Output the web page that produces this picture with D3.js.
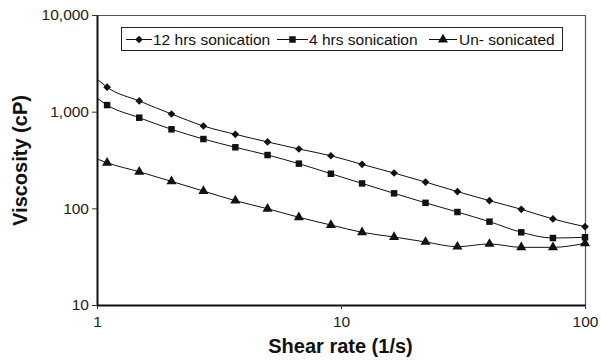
<!DOCTYPE html>
<html>
<head>
<meta charset="utf-8">
<script src="https://cdn.jsdelivr.net/npm/d3@7/dist/d3.min.js"></script>
<style>
  html, body { margin: 0; padding: 0; background: #fff; }
  svg { display: block; font-family: "Liberation Sans", Arial, sans-serif; }
</style>
</head>
<body>
<svg id="chart" width="601" height="361"></svg>
<script>
// Shear rate (1/s) at each measurement
const shearRate = [1, 1.1, 1.49, 2.02, 2.73, 3.69, 5.0, 6.72, 9.09, 12.2, 16.5, 22.2, 30.0, 40.6, 54.8, 73.9, 100];

// Viscosity (cP) for each sample
const sonic12h = [2180, 1790, 1290, 946, 711, 583, 486, 411, 350, 285, 232, 187, 149, 120, 97.7, 77.6, 64.6];
const sonic4h  = [1380, 1170, 866, 657, 521, 428, 356, 290, 228, 181, 143, 114, 91.6, 72.8, 56.5, 49.3, 50.2];
const unsonic  = [324, 296, 239, 190, 151, 120, 99, 80.8, 67.2, 56.5, 50.5, 44.9, 40.1, 42.8, 39.5, 39.5, 43.5];

const seriesNames = ["12 hrs sonication", "4 hrs sonication", "Un- sonicated"];
const xTickValues = [1, 10, 100];
const yTickValues = [10, 100, 1000, 10000];

const svg = d3.select("#chart");
const plot = { left: 97, right: 585, top: 15, bottom: 305 };

const x = d3.scaleLog().domain([1, 100]).range([plot.left, plot.right]);
const y = d3.scaleLog().domain([10, 10000]).range([plot.bottom, plot.top]);

// Frame on top and right
svg.append("line").attr("x1", plot.left).attr("x2", plot.right).attr("y1", plot.top + 0.5).attr("y2", plot.top + 0.5)
  .attr("stroke", "#555").attr("stroke-width", 1.2);
svg.append("line").attr("x1", plot.right + 0.5).attr("x2", plot.right + 0.5).attr("y1", plot.top).attr("y2", plot.bottom)
  .attr("stroke", "#555").attr("stroke-width", 1.2);

// Axes
const xAxis = svg.append("g").attr("transform", `translate(0,${plot.bottom})`)
  .call(d3.axisBottom(x).tickValues(xTickValues).tickFormat(d3.format(",")).tickSize(4).tickSizeOuter(0));
const yAxis = svg.append("g").attr("transform", `translate(${plot.left},0)`)
  .call(d3.axisLeft(y).tickValues(yTickValues).tickFormat(d3.format(",")).tickSize(5).tickSizeOuter(0));

[xAxis, yAxis].forEach(g => {
  g.select(".domain").attr("stroke", "#111").attr("stroke-width", 2);
  g.selectAll(".tick line").attr("stroke", "#333").attr("stroke-width", 1);
  g.selectAll(".tick text").attr("font-size", 15.5).attr("fill", "#222")
    .attr("font-family", "'Liberation Sans', Arial, sans-serif");
});
xAxis.selectAll(".tick text").attr("y", 7).attr("dy", "0.95em");
yAxis.selectAll(".tick text").attr("x", -8);

// Axis titles
svg.append("text").attr("x", 340.5).attr("y", 353).attr("text-anchor", "middle")
  .attr("font-size", 20).attr("font-weight", "bold").attr("fill", "#111")
  .text("Shear rate (1/s)");
svg.append("text").attr("transform", "translate(27,160.5) rotate(-90)").attr("text-anchor", "middle")
  .attr("font-size", 20).attr("font-weight", "bold").attr("fill", "#111")
  .text("Viscosity (cP)");

// Marker shapes
const markers = [
  d3.symbol().type(d3.symbolDiamond2).size(38),
  d3.symbol().type(d3.symbolSquare).size(42),
  d3.symbol().type(d3.symbolTriangle).size(44)
];

const series = [sonic12h, sonic4h, unsonic];
const line = d3.line().x((d, i) => x(shearRate[i])).y(d => y(d)).curve(d3.curveMonotoneX);

series.forEach((vals, k) => {
  svg.append("path").datum(vals).attr("d", line)
    .attr("fill", "none").attr("stroke", "#111").attr("stroke-width", 1);
  svg.append("g").selectAll("path").data(vals.slice(1)).join("path")
    .attr("transform", (d, i) => `translate(${x(shearRate[i + 1])},${y(d)})`)
    .attr("d", markers[k]).attr("fill", "#111");
});

// Legend
const legend = svg.append("g");
legend.append("rect").attr("x", 121.5).attr("y", 27.5).attr("width", 441).attr("height", 23)
  .attr("fill", "#fff").attr("stroke", "#222").attr("stroke-width", 1);
const legendItems = [
  { x0: 126, x1: 152, tx: 153 },
  { x0: 277, x1: 308, tx: 309 },
  { x0: 429, x1: 457, tx: 459 }
];
legendItems.forEach((it, k) => {
  const cy = 39.5;
  legend.append("line").attr("x1", it.x0).attr("x2", it.x1).attr("y1", cy).attr("y2", cy)
    .attr("stroke", "#111").attr("stroke-width", 1);
  legend.append("path").attr("transform", `translate(${(it.x0 + it.x1) / 2},${cy})`)
    .attr("d", markers[k]).attr("fill", "#111");
  legend.append("text").attr("x", it.tx).attr("y", 44.5).attr("font-size", 15.5).attr("fill", "#111")
    .text(seriesNames[k]);
});
</script>
</body>
</html>
